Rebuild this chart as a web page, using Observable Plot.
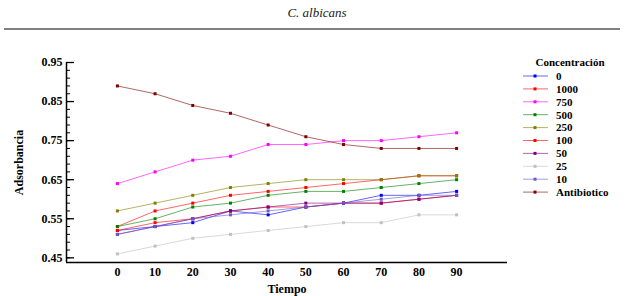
<!DOCTYPE html>
<html>
<head>
<meta charset="utf-8">
<script src="https://cdn.jsdelivr.net/npm/d3@7"></script>
<script src="https://cdn.jsdelivr.net/npm/@observablehq/plot@0.6"></script>
<style>
  html, body { margin: 0; padding: 0; background: #fff; }
  #wrap { position: relative; width: 628px; height: 296px; overflow: hidden; background: #fff; }
  #title { position: absolute; left: 0; top: 5px; width: 634px; text-align: center;
           font: italic 13px "Liberation Serif", "DejaVu Serif", serif; color: #222; }
  #rule { position: absolute; left: 4px; top: 28px; width: 616px; height: 2px; background: #808080; }
  #plot { position: absolute; left: 0; top: 32px; }
  #legend { position: absolute; left: 0; top: 0; pointer-events: none; }
</style>
</head>
<body>
<div id="wrap">
  <div id="title">C. albicans</div>
  <div id="rule"></div>
  <div id="plot"></div>
</div>
<script>
const times = [0, 10, 20, 30, 40, 50, 60, 70, 80, 90];
const seriesNames = ["0", "1000", "750", "500", "250", "100", "50", "25", "10", "Antibiotico"];
const seriesColors = ["#0000ff", "#ff0000", "#ff00ff", "#008000", "#808000", "#ff0000", "#800080", "#c0c0c0", "#6a5acd", "#800000"];

const c0    = [0.52, 0.53, 0.54, 0.57, 0.56, 0.58, 0.59, 0.61, 0.61, 0.62];
const c1000 = [0.53, 0.57, 0.59, 0.61, 0.62, 0.63, 0.64, 0.65, 0.66, 0.66];
const c750  = [0.64, 0.67, 0.70, 0.71, 0.74, 0.74, 0.75, 0.75, 0.76, 0.77];
const c500  = [0.53, 0.55, 0.58, 0.59, 0.61, 0.62, 0.62, 0.63, 0.64, 0.65];
const c250  = [0.57, 0.59, 0.61, 0.63, 0.64, 0.65, 0.65, 0.65, 0.66, 0.66];
const c100  = [0.52, 0.54, 0.55, 0.57, 0.58, 0.58, 0.59, 0.59, 0.60, 0.61];
const c50   = [0.51, 0.53, 0.55, 0.57, 0.58, 0.59, 0.59, 0.59, 0.60, 0.61];
const c25   = [0.46, 0.48, 0.50, 0.51, 0.52, 0.53, 0.54, 0.54, 0.56, 0.56];
const c10   = [0.51, 0.53, 0.55, 0.56, 0.57, 0.58, 0.59, 0.60, 0.61, 0.61];
const cAnti = [0.89, 0.87, 0.84, 0.82, 0.79, 0.76, 0.74, 0.73, 0.73, 0.73];

const yMajorTicks = [0.45, 0.55, 0.65, 0.75, 0.85, 0.95];
const yMinorTicks = d3.range(0, 26).map(i => +(0.45 + i * 0.02).toFixed(2));
const xDomain = [-13.5, 103.5];
const yDomain = [0.438, 0.95];

const seriesValues = [c0, c1000, c750, c500, c250, c100, c50, c25, c10, cAnti];
const rows = [];
seriesNames.forEach((s, i) => {
  times.forEach((t, j) => rows.push({ s, t, v: seriesValues[i][j] }));
});

const font = '"Liberation Serif", "Times New Roman", serif';

const chart = Plot.plot({
  width: 628,
  height: 264,
  marginLeft: 66,
  marginRight: 121,
  marginTop: 30,
  marginBottom: 34,
  style: { fontFamily: font, fontSize: "12px", fontWeight: "bold", color: "#000", background: "#fff", overflow: "visible" },
  x: { domain: xDomain },
  y: { domain: yDomain },
  color: { domain: seriesNames, range: seriesColors },
  marks: [
    Plot.line(rows, { x: "t", y: "v", z: "s", stroke: "s", strokeWidth: 1, strokeOpacity: 0.6 }),
    Plot.dot(rows, { x: "t", y: "v", fill: "s", r: 1.7, symbol: "square" }),
    Plot.axisY(yMinorTicks, { anchor: "left", tickSize: -4, tickFormat: () => "", label: null, strokeWidth: 1, stroke: "#000" }),
    Plot.axisY(yMajorTicks, { anchor: "left", tickSize: -8, tickFormat: () => "", label: null, strokeWidth: 1.3, stroke: "#000" }),
    Plot.axisY(yMajorTicks, { anchor: "left", tickSize: 0, tickPadding: 4, tickFormat: d3.format(".2f"),
      label: "Adsorbancia", labelAnchor: "center", labelArrow: "none", labelOffset: 52, fontSize: 12 }),
    Plot.axisX(times, { anchor: "bottom", tickSize: 0, tickPadding: 5, tickFormat: d => String(d),
      label: "Tiempo", labelAnchor: "center", labelArrow: "none", labelOffset: 30 }),
    Plot.ruleX([xDomain[0]], { stroke: "#000", strokeWidth: 1.5 }),
    Plot.ruleY([yDomain[0]], { stroke: "#000", strokeWidth: 1.5 })
  ]
});
document.getElementById("plot").appendChild(chart);

// Legend
const colorOf = s => seriesColors[seriesNames.indexOf(s)];
const leg = d3.select("#wrap").append("svg")
  .attr("id", "legend").attr("width", 628).attr("height", 296)
  .style("font-family", font).style("font-weight", "bold").style("font-size", "11px");
leg.append("text").attr("x", 570).attr("y", 66).attr("text-anchor", "middle").text("Concentración");
const rowY = i => 76 + i * 12.9;
const items = leg.selectAll("g.item").data(seriesNames).join("g").attr("class", "item");
items.append("line")
  .attr("x1", 523).attr("x2", 548).attr("y1", (d, i) => rowY(i)).attr("y2", (d, i) => rowY(i))
  .attr("stroke", d => colorOf(d)).attr("stroke-opacity", 0.6).attr("stroke-width", 1);
items.append("rect")
  .attr("x", 533.5).attr("y", (d, i) => rowY(i) - 1.5).attr("width", 3).attr("height", 3)
  .attr("fill", d => colorOf(d));
items.append("text")
  .attr("x", 556).attr("y", (d, i) => rowY(i)).attr("dy", "0.35em").text(d => d);
</script>
</body>
</html>
